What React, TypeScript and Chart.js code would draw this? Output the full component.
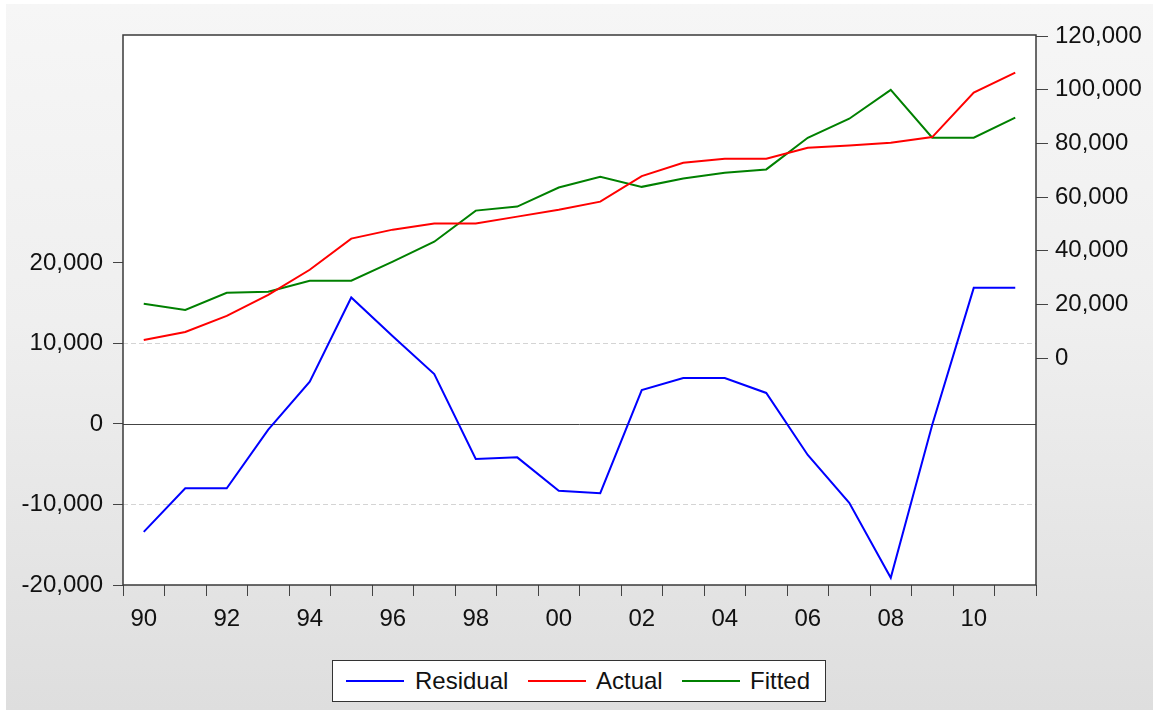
import React, { useEffect, useRef } from "react";
import { Chart, registerables } from "chart.js";

Chart.register(...registerables);

const years: string[] = [
  "90", "91", "92", "93", "94", "95", "96", "97", "98", "99", "00",
  "01", "02", "03", "04", "05", "06", "07", "08", "09", "10", "11",
];

const residual: number[] = [
  -13400, -8000, -8000, -700, 5250, 15700, 10900, 6200, -4350, -4150, -8300,
  -8600, 4200, 5700, 5700, 3850, -3850, -9800, -19100, -100, 16900, 16900,
];

const actual: number[] = [
  6700, 9700, 15700, 23550, 32900, 44500, 47850, 50100, 50100, 52700, 55300,
  58300, 67800, 72800, 74300, 74300, 78400, 79250, 80250, 82350, 98950, 106400,
];

const fitted: number[] = [
  20200, 17950, 24300, 24700, 28800, 28800, 35900, 43350, 54950, 56450, 63550,
  67550, 63800, 66900, 69050, 70300, 82100, 89200, 99950, 82100, 82100, 89600,
];

const leftTicks: number[] = [-20000, -10000, 0, 10000, 20000];
const rightTicks: number[] = [0, 20000, 40000, 60000, 80000, 100000, 120000];
const leftGridValues: number[] = [10000, -10000];

const seriesNames: string[] = ["Residual", "Actual", "Fitted"];
const seriesColors: string[] = ["#0000ff", "#ff0000", "#008000"];

const FONT = "'Liberation Sans', Arial, sans-serif";

const framePlugin = {
  id: "framePlugin",
  beforeDraw(chart: any) {
    const { ctx, chartArea } = chart;
    ctx.save();
    ctx.fillStyle = "#ffffff";
    ctx.fillRect(chartArea.left, chartArea.top, chartArea.right - chartArea.left, chartArea.bottom - chartArea.top);
    ctx.restore();
  },
  beforeDatasetsDraw(chart: any) {
    const { ctx, chartArea } = chart;
    const y = chart.scales.y;
    ctx.save();
    ctx.lineWidth = 1;
    ctx.strokeStyle = "#d4d4d4";
    ctx.setLineDash([5, 3]);
    leftGridValues.forEach((v) => {
      const py = Math.round(y.getPixelForValue(v)) + 0.5;
      ctx.beginPath();
      ctx.moveTo(chartArea.left, py);
      ctx.lineTo(chartArea.right, py);
      ctx.stroke();
    });
    ctx.setLineDash([]);
    ctx.strokeStyle = "#444444";
    const pz = Math.round(y.getPixelForValue(0)) + 0.5;
    ctx.beginPath();
    ctx.moveTo(chartArea.left, pz);
    ctx.lineTo(chartArea.right, pz);
    ctx.stroke();
    ctx.restore();
  },
  afterDatasetsDraw(chart: any) {
    const { ctx, chartArea } = chart;
    ctx.save();
    ctx.strokeStyle = "#3a3a3a";
    ctx.lineWidth = 1.5;
    ctx.strokeRect(chartArea.left, chartArea.top, chartArea.right - chartArea.left, chartArea.bottom - chartArea.top);
    ctx.restore();
  },
};

const fmt = (v: any) => Number(v).toLocaleString("en-US");

export default function App() {
  const canvasRef = useRef<HTMLCanvasElement | null>(null);

  useEffect(() => {
    if (!canvasRef.current) return;
    const chart = new Chart(canvasRef.current, {
      type: "line",
      data: {
        labels: years,
        datasets: [
          {
            label: seriesNames[0],
            data: residual,
            borderColor: seriesColors[0],
            backgroundColor: seriesColors[0],
            borderWidth: 2,
            pointRadius: 0,
            tension: 0,
            yAxisID: "y",
          },
          {
            label: seriesNames[1],
            data: actual,
            borderColor: seriesColors[1],
            backgroundColor: seriesColors[1],
            borderWidth: 2,
            pointRadius: 0,
            tension: 0,
            yAxisID: "y1",
          },
          {
            label: seriesNames[2],
            data: fitted,
            borderColor: seriesColors[2],
            backgroundColor: seriesColors[2],
            borderWidth: 2,
            pointRadius: 0,
            tension: 0,
            yAxisID: "y1",
          },
        ],
      },
      options: {
        responsive: false,
        animation: false,
        devicePixelRatio: 1,
        layout: { padding: { left: 0, right: 0, top: 31, bottom: 75 } },
        plugins: {
          legend: { display: false },
          tooltip: { enabled: false },
        },
        scales: {
          x: {
            type: "category",
            offset: true,
            border: { display: false },
            grid: {
              offset: true,
              drawOnChartArea: false,
              tickLength: 11,
              tickColor: "#444444",
              tickWidth: 1,
            },
            ticks: {
              autoSkip: false,
              maxRotation: 0,
              minRotation: 0,
              padding: 9,
              color: "#111111",
              font: { family: FONT, size: 24 },
              callback: function (this: any, value: any, index: number) {
                return index % 2 === 0 ? this.getLabelForValue(value) : "";
              },
            },
            afterFit: (scale: any) => {
              scale.height = 50;
            },
          },
          y: {
            type: "linear",
            position: "left",
            min: -20000,
            max: 48300,
            border: { display: false },
            grid: {
              drawOnChartArea: false,
              tickLength: 10,
              tickColor: "#444444",
              tickWidth: 1,
            },
            ticks: {
              padding: 10,
              color: "#111111",
              font: { family: FONT, size: 24 },
              callback: fmt,
            },
            afterBuildTicks: (scale: any) => {
              scale.ticks = leftTicks.map((v) => ({ value: v }));
            },
            afterFit: (scale: any) => {
              scale.width = 117;
            },
          },
          y1: {
            type: "linear",
            position: "right",
            min: -84600,
            max: 120400,
            border: { display: false },
            grid: {
              drawOnChartArea: false,
              tickLength: 12,
              tickColor: "#444444",
              tickWidth: 1,
            },
            ticks: {
              padding: 7,
              color: "#111111",
              font: { family: FONT, size: 24 },
              callback: fmt,
            },
            afterBuildTicks: (scale: any) => {
              scale.ticks = rightTicks.map((v) => ({ value: v }));
            },
            afterFit: (scale: any) => {
              scale.width = 117;
            },
          },
        },
      },
      plugins: [framePlugin],
    });
    return () => chart.destroy();
  }, []);

  const legendItems = [
    { line: 13, text: 82 },
    { line: 195, text: 263 },
    { line: 349, text: 417 },
  ];

  return (
    <div
      style={{
        position: "fixed",
        left: 6,
        top: 4,
        width: 1147,
        height: 706,
        background: "linear-gradient(to bottom, #f6f6f6 0%, #efefef 45%, #dedede 100%)",
        overflow: "hidden",
      }}
    >
      <canvas ref={canvasRef} width={1147} height={706} style={{ display: "block" }} />
      <div
        style={{
          position: "absolute",
          left: 326,
          top: 656,
          width: 492,
          height: 40,
          background: "#ffffff",
          border: "1px solid #333333",
          fontFamily: FONT,
          fontSize: 24,
          color: "#111111",
        }}
      >
        {legendItems.map((it, i) => (
          <React.Fragment key={seriesNames[i]}>
            <div
              style={{
                position: "absolute",
                left: it.line,
                top: 19,
                width: 58,
                height: 2,
                background: seriesColors[i],
              }}
            />
            <div
              style={{
                position: "absolute",
                left: it.text,
                top: 0,
                height: 40,
                lineHeight: "40px",
                whiteSpace: "nowrap",
              }}
            >
              {seriesNames[i]}
            </div>
          </React.Fragment>
        ))}
      </div>
    </div>
  );
}
